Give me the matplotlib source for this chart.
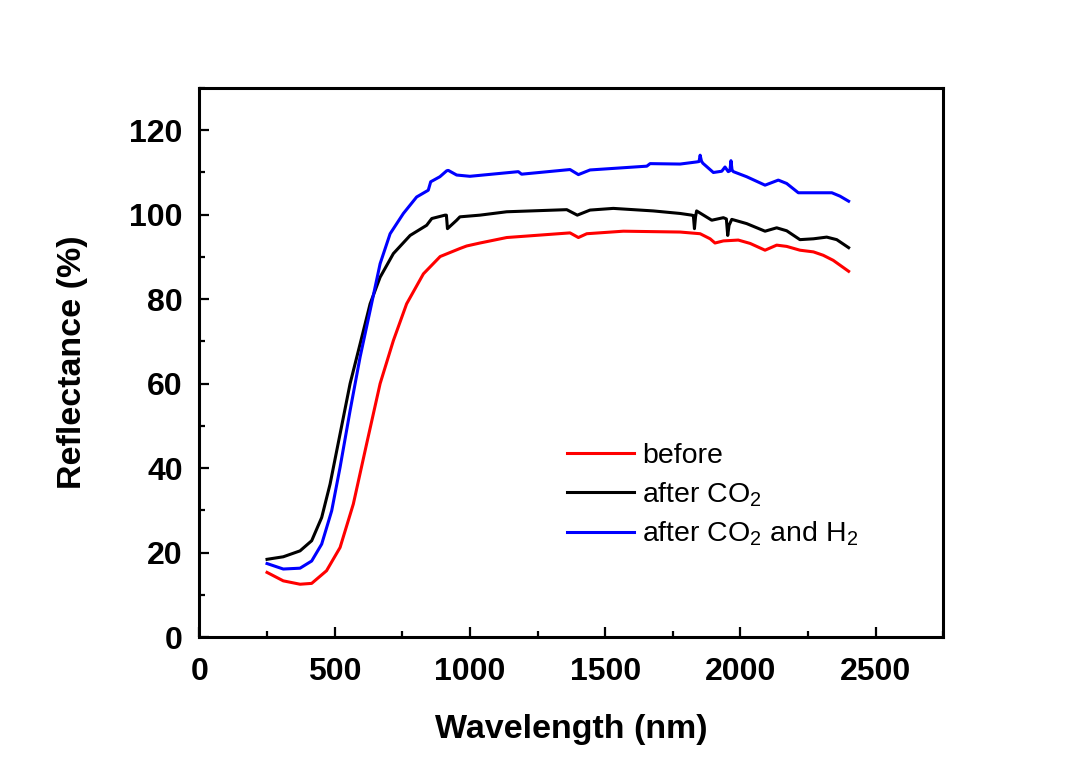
import numpy as np
import matplotlib
matplotlib.use("Agg")
import matplotlib.pyplot as plt
from matplotlib.ticker import MultipleLocator

plt.rcParams["font.family"] = ["Liberation Sans", "DejaVu Sans"]
plt.rcParams["mathtext.fontset"] = "custom"
plt.rcParams["mathtext.rm"] = "Liberation Sans"
plt.rcParams["mathtext.it"] = "Liberation Sans:italic"
plt.rcParams["mathtext.bf"] = "Liberation Sans:bold"

# reflectance spectra (wavelength nm, reflectance %)
wl_before = [250, 310, 372, 415, 470, 520, 569, 618, 668, 717, 766, 828, 890, 963,
             988, 1037, 1136, 1370, 1401, 1432, 1567, 1777, 1851, 1888, 1906, 1937,
             1992, 2036, 2091, 2134, 2171, 2220, 2270, 2306, 2343, 2400]
r_before = [15.3, 13.3, 12.5, 12.7, 15.7, 21.2, 31.5, 45.7, 60.0, 70.2, 78.9, 86.0, 90.1, 92.0,
            92.6, 93.3, 94.6, 95.7, 94.6, 95.5, 96.1, 95.9, 95.5, 94.3, 93.3, 93.8,
            94.0, 93.2, 91.6, 92.8, 92.5, 91.6, 91.2, 90.4, 89.2, 86.6]

wl_co2 = [250, 310, 372, 415, 452, 483, 520, 557, 594, 631, 668, 717, 779, 840,
          859, 908, 913, 917, 951, 963, 1037, 1136, 1358, 1397, 1444, 1530, 1678,
          1777, 1820, 1826, 1830, 1834, 1838, 1894, 1937, 1948, 1953, 1958, 1968,
          2023, 2091, 2134, 2171, 2220, 2270, 2319, 2356, 2400]
r_co2 = [18.4, 19.0, 20.4, 22.8, 28.3, 36.2, 48.1, 60.0, 69.4, 78.9, 85.2, 90.8, 95.1, 97.5,
         99.1, 99.9, 99.9, 96.7, 98.7, 99.5, 99.9, 100.7, 101.2, 99.9, 101.1, 101.5, 100.9,
         100.3, 99.9, 99.8, 96.7, 99.5, 100.9, 98.7, 99.3, 99.0, 95.1, 97.5, 98.9,
         97.9, 96.1, 96.9, 96.2, 94.1, 94.3, 94.7, 94.1, 92.2]

wl_co2_h2 = [250, 310, 372, 415, 452, 489, 520, 557, 594, 631, 668, 705, 754, 803,
             846, 855, 889, 914, 920, 951, 1000, 1179, 1191, 1370, 1401, 1444, 1654,
             1666, 1777, 1838, 1847, 1851, 1856, 1861, 1900, 1931, 1943, 1955, 1961,
             1965, 1969, 1974, 2023, 2091, 2140, 2171, 2214, 2270, 2338, 2368, 2400]
r_co2_h2 = [17.4, 16.1, 16.3, 18.0, 22.0, 29.9, 40.2, 53.6, 66.3, 77.3, 88.4, 95.5, 100.3, 104.2,
            105.8, 107.8, 109.0, 110.4, 110.5, 109.4, 109.1, 110.2, 109.6, 110.7, 109.5, 110.6, 111.5,
            112.1, 112.0, 112.5, 112.6, 114.1, 112.7, 112.2, 110.0, 110.3, 111.3, 110.2, 110.4,
            112.8, 110.6, 110.2, 109.0, 107.0, 108.2, 107.4, 105.2, 105.2, 105.2, 104.4, 103.2]

labels = ["before", "after CO$_2$", "after CO$_2$ and H$_2$"]
colors = ["#ff0000", "#000000", "#0000ff"]

fig = plt.figure(figsize=(10.75, 7.57), dpi=100)
ax = fig.add_axes([0.1855, 0.1585, 0.692, 0.7252])

for wl, r, lab, c in zip([wl_before, wl_co2, wl_co2_h2],
                         [r_before, r_co2, r_co2_h2], labels, colors):
    ax.plot(wl, r, color=c, lw=2.2, label=lab, solid_joinstyle="round")

ax.set_xlim(0, 2750)
ax.set_ylim(0, 130)
ax.xaxis.set_major_locator(MultipleLocator(500))
ax.xaxis.set_minor_locator(MultipleLocator(250))
ax.yaxis.set_major_locator(MultipleLocator(20))
ax.yaxis.set_minor_locator(MultipleLocator(10))
ax.tick_params(which="both", direction="in", top=False, right=False, width=1.6)
ax.tick_params(which="major", length=7.5)
ax.tick_params(which="minor", length=4.5)
ax.tick_params(axis="y", which="major", pad=12)
ax.tick_params(axis="x", which="major", pad=14.5)
for t in ax.get_xticklabels() + ax.get_yticklabels():
    t.set_fontsize(23)
    t.set_fontweight("bold")
for s in ax.spines.values():
    s.set_linewidth(2.2)

ax.set_xlabel("Wavelength (nm)", fontsize=24.5, fontweight="bold", labelpad=19)
ax.set_ylabel("Reflectance (%)", fontsize=24.5, fontweight="bold", labelpad=30)

ax.legend(loc="upper left", bbox_to_anchor=(0.494, 0.354), frameon=False,
          fontsize=20.5, handlelength=2.35, handletextpad=0.3, labelspacing=0.4,
          borderpad=0, borderaxespad=0)

fig.savefig("out.png", dpi=100)
